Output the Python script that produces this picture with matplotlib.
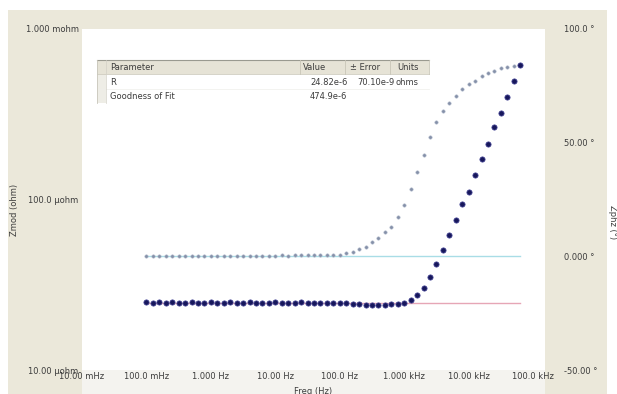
import matplotlib
matplotlib.use("Agg")
import matplotlib.pyplot as plt
from matplotlib.patches import Rectangle
from matplotlib.lines import Line2D

W, H = 617, 394

# ---------------- data ----------------
freq_hz = [0.1, 0.1259, 0.1585, 0.1995, 0.2512, 0.3162, 0.3981, 0.5012, 0.631, 0.7943,
           1.0, 1.259, 1.585, 1.995, 2.512, 3.162, 3.981, 5.012, 6.31, 7.943,
           10.0, 12.59, 15.85, 19.95, 25.12, 31.62, 39.81, 50.12, 63.1, 79.43,
           100.0, 125.9, 158.5, 199.5, 251.2, 316.2, 398.1, 501.2, 631.0, 794.3,
           1000.0, 1259.0, 1585.0, 1995.0, 2512.0, 3162.0, 3981.0, 5012.0, 6310.0, 7943.0,
           10000.0, 12590.0, 15850.0, 19950.0, 25120.0, 31620.0, 39810.0, 50120.0, 63100.0]

zmod_uohm = [24.9, 24.8, 24.9, 24.8, 24.9, 24.8, 24.8, 24.9, 24.8, 24.8,
             24.9, 24.8, 24.8, 24.9, 24.8, 24.8, 24.9, 24.8, 24.8, 24.8,
             24.9, 24.8, 24.8, 24.8, 24.9, 24.8, 24.8, 24.8, 24.8, 24.8,
             24.7, 24.6, 24.4, 24.3, 24.2, 24.1, 24.1, 24.2, 24.3, 24.5,
             24.8, 25.8, 27.6, 30.4, 35.2, 42.0, 50.8, 62.2, 76.3, 93.5,
             111.0, 140.0, 172.0, 213.0, 265.0, 321.0, 398.0, 494.0, 614.0]

zphz_deg = [0.2, 0.1, 0.2, 0.3, 0.1, 0.2, 0.2, 0.1, 0.3, 0.2,
            0.2, 0.3, 0.2, 0.3, 0.2, 0.3, 0.3, 0.2, 0.3, 0.3,
            0.3, 0.4, 0.3, 0.4, 0.4, 0.5, 0.4, 0.5, 0.6, 0.6,
            0.7, 1.5, 2.1, 3.4, 4.3, 6.5, 8.2, 10.5, 13.1, 17.5,
            22.8, 29.4, 36.9, 44.4, 52.4, 59.0, 63.8, 67.4, 70.4, 73.5,
            75.7, 77.1, 79.3, 80.6, 81.5, 82.8, 83.2, 83.7, 84.1]

fit_R_ohm = 24.82e-6
fit_phase_deg = 0.0

x_ticks = [1e-2, 1e-1, 1e0, 1e1, 1e2, 1e3, 1e4, 1e5]
x_ticklabels = ["10.00 mHz", "100.0 mHz", "1.000 Hz", "10.00 Hz",
                "100.0 Hz", "1.000 kHz", "10.00 kHz", "100.0 kHz"]
yl_ticks = [1e-5, 1e-4, 1e-3]
yl_ticklabels = ["10.00 µohm", "100.0 µohm", "1.000 mohm"]
yr_ticks = [-50, 0, 50, 100]
yr_ticklabels = ["-50.00 °", "0.000 °", "50.00 °", "100.0 °"]

table_header = ["Parameter", "Value", "± Error", "Units"]
table_rows = [["R", "24.82e-6", "70.10e-9", "ohms"],
              ["Goodness of Fit", "474.9e-6", "", ""]]

# ---------------- figure ----------------
BEIGE = "#ebe8da"
TXT = "#3c3c3c"

fig = plt.figure(figsize=(W / 100, H / 100), dpi=100, facecolor="white")


def fx(x):
    return x / W


def fy(y):
    return 1 - y / H


def rect(x0, y0, x1, y1, **kw):
    r = Rectangle((fx(x0), fy(y1)), fx(x1) - fx(x0), fy(y0) - fy(y1),
                  transform=fig.transFigure, **kw)
    fig.patches.append(r)
    return r


def hline(x0, x1, y, **kw):
    fig.lines.append(Line2D([fx(x0), fx(x1)], [fy(y), fy(y)], transform=fig.transFigure, **kw))


def vline(x, y0, y1, **kw):
    fig.lines.append(Line2D([fx(x), fx(x)], [fy(y0), fy(y1)], transform=fig.transFigure, **kw))


# background panels
rect(8, 10, 607, 394, facecolor=BEIGE, edgecolor="none", zorder=-20)
rect(82, 370, 545, 394, facecolor="#f4f3ef", edgecolor="none", zorder=-19)

L, R, T, B = 82, 545, 29, 370
ax = fig.add_axes([fx(L), fy(B), fx(R) - fx(L), fy(T) - fy(B)])
ax2 = ax.twinx()
ax.set_zorder(ax2.get_zorder() + 1)
ax.patch.set_visible(False)
ax2.patch.set_visible(True)
ax2.patch.set_facecolor("white")

ax.set_xscale("log")
ax.set_yscale("log")
ax.set_xlim(1e-2, 1.53e5)
ax.set_ylim(1e-5, 1e-3)
ax2.set_ylim(-50, 100)

# fit lines
ax2.plot([freq_hz[0], freq_hz[-1]], [fit_phase_deg, fit_phase_deg],
         color="#a9dde6", lw=1.0, zorder=1)
ax.plot([freq_hz[0], freq_hz[-1]], [fit_R_ohm, fit_R_ohm],
        color="#e6a6b6", lw=1.0, zorder=1)

# data
ax2.plot(freq_hz, zphz_deg, linestyle="none", marker="o", markersize=2.4,
         markerfacecolor="#8590a8", markeredgecolor="#aab4c8", markeredgewidth=0.4, zorder=3)
ax.plot(freq_hz, [v * 1e-6 for v in zmod_uohm], linestyle="none", marker="o",
        markersize=3.8, markerfacecolor="#17175c", markeredgecolor="#4a4a9a",
        markeredgewidth=0.5, zorder=4)

# ticks
ax.set_xticks(x_ticks)
ax.set_xticklabels(x_ticklabels)
ax.set_yticks(yl_ticks)
ax.set_yticklabels(yl_ticklabels)
ax.minorticks_off()
ax2.set_yticks(yr_ticks)
ax2.set_yticklabels(yr_ticklabels)
ax.tick_params(axis="x", length=0, pad=1.5, labelsize=6, labelcolor=TXT)
ax.tick_params(axis="y", length=0, pad=2.5, labelsize=6, labelcolor=TXT)
ax2.tick_params(axis="y", length=0, pad=14, labelsize=6, labelcolor=TXT)
for a in (ax, ax2):
    for s in a.spines.values():
        s.set_visible(False)

# axis titles
fig.text(fx(14), fy(210), "Zmod (ohm)", rotation=90, ha="center", va="center",
         fontsize=6, color=TXT)
fig.text(fx(612), fy(222), "Zphz (°)", rotation=270, ha="center", va="center",
         fontsize=6, color=TXT)
fig.text(fx(313), fy(387), "Freq (Hz)", ha="center", va="top", fontsize=6, color=TXT)

# ---------------- fit table ----------------
tx0, tx1 = 97, 429
ty0, thb, ty1 = 60, 74, 103
rect(tx0, ty0, tx1, thb, facecolor="#e6e3d6", edgecolor="none", zorder=10)
rect(tx0, thb, tx1, ty1, facecolor="white", edgecolor="none", zorder=10)
rect(tx0, thb, 106, ty1, facecolor="#eeede6", edgecolor="none", zorder=10)
hline(tx0, tx1, ty0, color="#9a9a90", lw=0.8, zorder=11)
hline(tx0, tx1, thb, color="#cfccbf", lw=0.6, zorder=11)
hline(tx0, tx1, 89, color="#eeeeea", lw=0.5, zorder=11)
vline(tx0, ty0, ty1, color="#c8c6bb", lw=0.6, zorder=11)
vline(106, ty0, ty1, color="#d2d0c6", lw=0.5, zorder=11)
for xs in (300, 345, 390):
    vline(xs, ty0, thb, color="#c9c6b8", lw=0.6, zorder=11)
vline(tx1, ty0, thb, color="#c9c6b8", lw=0.6, zorder=11)

col_x = [110, 303, 350, 397]
for cx, txt in zip(col_x, table_header):
    fig.text(fx(cx), fy(67.5), txt, ha="left", va="center", fontsize=6, color=TXT, zorder=12)
row_y = [82.5, 96.5]
val_x = [110, 310, 357, 395]
for ry, row in zip(row_y, table_rows):
    for cx, txt in zip(val_x, row):
        if txt:
            fig.text(fx(cx), fy(ry), txt, ha="left", va="center", fontsize=6,
                     color=TXT, zorder=12)

fig.savefig("out.png", dpi=100, facecolor=fig.get_facecolor())
